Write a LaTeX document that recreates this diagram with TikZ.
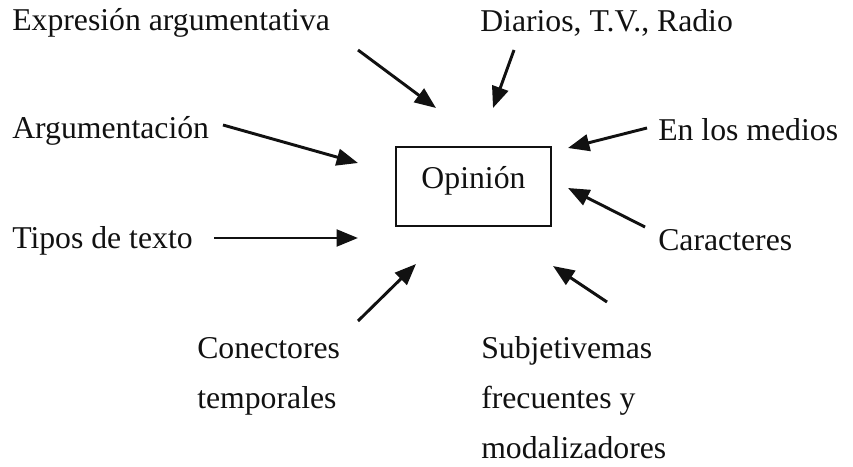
\documentclass[tikz,border=0pt]{standalone}
\usepackage{fontspec}
\setmainfont{Liberation Serif}
\usetikzlibrary{arrows.meta}
\definecolor{inkblack}{HTML}{111111}
\tikzset{
  >=Triangle,
  label/.style={font=\fontsize{23.8pt}{37.5pt}\selectfont, text=inkblack, inner sep=0pt, anchor=base west, align=left},
  topicbox/.style={
    rectangle, draw=inkblack, line width=1.5pt,
    minimum width=116.25pt, minimum height=59.25pt,
    text height=16pt, text depth=13pt,
    font=\fontsize{23.8pt}{28pt}\selectfont, text=inkblack
  },
  arrow/.style={-{Triangle[length=16pt,width=12.5pt]}, line width=2.2pt, draw=inkblack}
}

\begin{document}
\begin{tikzpicture}[x=0.75pt, y=-0.75pt]
\useasboundingbox (0,0) rectangle (853,467);
\node[topicbox] (opin) at (473.5,186.5) {Opinión};
\node[label] (expr) at (12,31) {Expresión argumentativa};
\node[label] (diar) at (480,32) {Diarios, T.V., Radio};
\node[label] (argu) at (12,138) {Argumentación};
\node[label] (medi) at (658,140) {En los medios};
\node[label] (tipo) at (12,248) {Tipos de texto};
\node[label] (cara) at (658,250) {Caracteres};
\node[label] (cone) at (197,408) {Conectores\\temporales};
\node[label] (subj) at (481,458) {Subjetivemas\\frecuentes y\\modalizadores};
\coordinate (expr-t) at (358,50);  \coordinate (expr-h) at (436,108);
\coordinate (diar-t) at (514,50);  \coordinate (diar-h) at (493,108);
\coordinate (argu-t) at (223,125); \coordinate (argu-h) at (358,163);
\coordinate (tipo-t) at (214,238); \coordinate (tipo-h) at (358,238);
\coordinate (medi-t) at (647,128); \coordinate (medi-h) at (568,148);
\coordinate (cara-t) at (645,227); \coordinate (cara-h) at (568,188);
\coordinate (cone-t) at (358,321); \coordinate (cone-h) at (416,264);
\coordinate (subj-t) at (607,302); \coordinate (subj-h) at (553,266);
\foreach \n in {expr,diar,argu,tipo,medi,cara,cone,subj}
  \draw[arrow] (\n-t) -- (\n-h);
\end{tikzpicture}
\end{document}
